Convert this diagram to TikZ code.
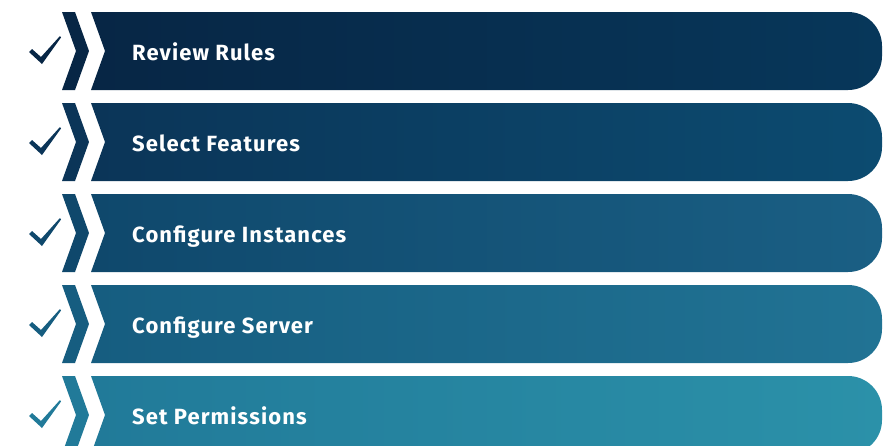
\documentclass[tikz,border=0pt]{standalone}
\usepackage{fontspec}
\setmainfont{Fira Sans}
\newfontfamily\lblfont[LetterSpace=5]{Fira Sans}
\definecolor{ra}{HTML}{072645}
\definecolor{rb}{HTML}{07375A}
\definecolor{sa}{HTML}{0B3558}
\definecolor{sb}{HTML}{0C4B70}
\definecolor{ta}{HTML}{0F486C}
\definecolor{tb}{HTML}{1A5F84}
\definecolor{ua}{HTML}{165D80}
\definecolor{ub}{HTML}{217394}
\definecolor{va}{HTML}{217A99}
\definecolor{vb}{HTML}{2B91A9}
\tikzset{
  lbl/.style={anchor=base west, text=white, font=\lblfont\fontsize{22}{25}\selectfont\bfseries, inner sep=0pt},
}
\begin{document}
\begin{tikzpicture}[x=1pt,y=1pt]
\useasboundingbox (0,0) rectangle (891,-445);
\clip (0,0) rectangle (891,-445);
\fill[white] (0,0) rectangle (891,-445);
\foreach \i/\lab/\ca/\cb in {0/Review Rules/ra/rb, 1/Select Features/sa/sb, 2/Configure Instances/ta/tb, 3/Configure Server/ua/ub, 4/Set Permissions/va/vb} {
  \pgfmathsetmacro\t{-(12+91*\i)}
  \pgfmathsetmacro\b{\t-78}
  \pgfmathsetmacro\c{\t-39}
  \shade[left color=\ca, right color=\cb]
    (91,\t) -- (848,\t) arc[start angle=90,end angle=0,radius=34]
    -- (882,\b+34) arc[start angle=0,end angle=-90,radius=34]
    -- (91,\b) -- (105,\c) -- cycle;
  \fill[\ca] (62,\t) -- (75,\t) -- (89,\c) -- (75,\b) -- (62,\b) -- (76,\c) -- cycle;
  \fill[\ca] (29,\c-1) -- (32,\c+2) -- (41,\c-6) -- (60,\c+15) -- (61,\c+13.5) -- (42,\c-13) -- cycle;
  \node[lbl] (n\i) at (132,\c-9) {\lab};
}
\end{tikzpicture}
\end{document}
